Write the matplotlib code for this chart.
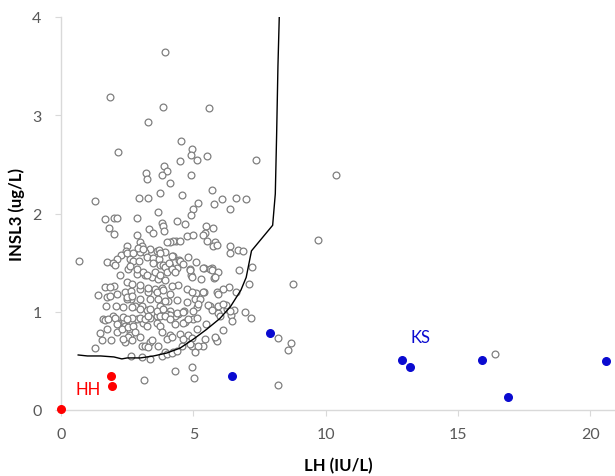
import numpy as np
import matplotlib.pyplot as plt

plt.rcParams['font.family'] = ['Lato', 'DejaVu Sans']

# Control subjects: LH (IU/L) vs INSL3 (ug/L)
ctrl_lh = [
    3.94, 1.85, 3.87, 5.59, 3.30, 4.52, 2.17, 4.96, 4.91, 5.51, 4.49, 5.15, 7.37, 3.90, 3.21, 3.24,
    4.01, 3.82, 4.93, 4.12, 5.69, 3.74, 4.59, 2.95, 3.28, 1.29, 6.08, 6.60, 6.98, 10.39, 9.73,
    5.19, 5.77, 6.39, 4.98, 3.65, 4.91, 1.66, 2.00, 2.10, 2.88, 4.37, 4.69, 3.83, 3.87, 1.83,
    2.01, 3.33, 3.49, 3.89, 5.47, 5.73, 5.44, 2.88, 4.75, 5.00, 5.36, 5.52, 5.83, 5.76, 6.39,
    6.37, 6.70, 6.87, 7.23, 6.73, 7.10, 8.78, 6.95, 7.17, 6.44, 6.46, 6.12, 6.55, 6.26, 5.95,
    6.24, 6.60, 6.34, 6.11, 5.91, 5.63, 5.92, 5.42, 5.09, 4.75, 4.41, 5.28, 5.79, 5.71, 5.63,
    5.42, 4.88, 4.91, 5.09, 4.79, 4.46, 4.22, 4.35, 4.24, 4.12, 3.99, 3.36, 3.62, 3.70, 3.93,
    3.17, 2.99, 2.48, 2.45, 2.27, 2.10, 1.73, 1.98, 2.03, 0.69, 2.61, 2.73, 2.95, 3.26, 3.49,
    3.70, 3.74, 3.87, 4.12, 4.37, 2.23, 2.54, 2.88, 3.17, 3.45, 3.65, 3.93,
    1.66, 2.00, 1.41, 1.73, 2.10, 2.42, 2.65, 2.99, 3.30, 3.55, 3.80, 4.12, 4.06, 4.37, 4.75,
    5.06, 5.13, 4.66, 4.41, 4.12, 3.74, 3.62, 3.26, 3.05, 2.80, 2.65, 2.48, 2.35, 2.08, 1.70,
    1.60, 1.98, 2.17, 2.42, 2.61, 2.67, 2.86, 3.11, 3.26, 3.62, 3.74, 3.99, 4.31, 4.69, 5.00,
    5.47, 5.13, 4.81, 4.50, 4.12, 3.80, 3.36, 3.05, 2.61, 2.42, 2.10, 1.73, 1.47, 1.56, 1.88,
    1.28, 2.65, 3.05, 3.36, 3.68, 3.93, 4.24, 4.56, 4.94, 5.06, 5.44, 5.85, 5.88, 4.31, 4.96,
    5.03, 3.15, 8.21, 8.21, 8.59, 8.68, 16.40,
    2.99, 3.05, 3.74, 2.48, 2.73, 2.92, 3.11, 3.49, 3.93, 4.10, 2.61, 2.86, 3.11, 3.24, 3.55,
    3.74, 3.99, 2.48, 2.67, 2.99, 3.30, 3.62, 3.87, 4.18, 1.85, 1.85, 2.48, 2.67, 2.99, 3.36,
    3.68, 3.93, 2.67, 2.99, 3.36, 3.62, 3.87, 2.35, 2.67, 2.99, 3.36, 3.74, 4.12, 4.50, 5.88,
    4.18, 4.50, 4.62, 4.88, 4.94, 5.38, 5.69, 5.95, 5.82, 4.94, 5.38, 5.95, 4.18, 4.31, 5.25,
    5.19, 5.00, 5.57, 5.69, 6.13, 6.39, 4.37, 4.62,
    1.66, 1.79, 2.04, 2.48, 3.17, 3.30, 3.93, 4.12, 2.10, 2.29, 2.54, 2.73, 2.80, 2.54, 2.35,
    2.67, 2.99, 3.17, 3.30, 3.99, 3.43, 3.80, 3.99, 4.18,
    4.31, 4.62, 4.81, 5.13, 6.01, 4.18, 4.62, 4.94, 5.38, 5.19, 4.88, 4.37, 5.82,
]
ctrl_insl3 = [
    3.64, 3.19, 3.08, 3.07, 2.93, 2.74, 2.63, 2.66, 2.60, 2.59, 2.53, 2.54, 2.54, 2.48, 2.41, 2.35,
    2.43, 2.39, 2.39, 2.31, 2.24, 2.21, 2.19, 2.16, 2.16, 2.13, 2.15, 2.16, 2.15, 2.39, 1.73,
    2.11, 2.10, 2.05, 2.05, 2.02, 1.98, 1.94, 1.95, 1.95, 1.95, 1.92, 1.89, 1.90, 1.87, 1.85,
    1.79, 1.84, 1.80, 1.82, 1.87, 1.85, 1.80, 1.78, 1.77, 1.78, 1.78, 1.72, 1.71, 1.67, 1.67,
    1.60, 1.63, 1.62, 1.46, 1.43, 1.28, 1.28, 1.00, 0.94, 0.97, 0.91, 0.81, 1.02, 1.03, 0.99,
    1.07, 1.20, 1.25, 1.23, 1.20, 1.06, 1.06, 1.20, 1.19, 1.23, 1.27, 1.33, 1.34, 1.45, 1.44,
    1.45, 1.44, 1.37, 1.51, 1.56, 1.53, 1.57, 1.72, 1.72, 1.71, 1.71, 1.64, 1.62, 1.63, 1.61,
    1.61, 1.61, 1.67, 1.62, 1.58, 1.54, 1.51, 1.50, 1.48, 1.52, 1.54, 1.52, 1.52, 1.56, 1.55,
    1.54, 1.48, 1.48, 1.47, 1.45, 1.37, 1.44, 1.38, 1.37, 1.35, 1.33, 1.32,
    1.25, 1.26, 1.17, 1.15, 1.18, 1.20, 1.21, 1.23, 1.20, 1.23, 1.24, 1.18, 1.11, 1.12, 1.10,
    1.13, 1.05, 1.01, 0.98, 1.01, 1.06, 0.96, 1.02, 1.06, 1.06, 1.13, 1.13, 1.05, 1.06, 1.06,
    0.93, 0.96, 0.89, 0.86, 0.79, 0.89, 0.93, 0.89, 0.86, 0.89, 0.86, 0.98, 0.96, 0.90, 0.93,
    0.88, 0.82, 0.76, 0.77, 0.76, 0.79, 0.69, 0.65, 0.76, 0.69, 0.79, 0.82, 0.78, 0.71, 0.71,
    0.63, 0.55, 0.54, 0.52, 0.65, 0.59, 0.59, 0.65, 0.65, 0.59, 0.72, 0.72, 0.70, 0.40, 0.44,
    0.33, 0.31, 0.25, 0.73, 0.61, 0.68, 0.57,
    1.71, 1.67, 1.60, 1.60, 1.60, 1.65, 1.64, 1.50, 1.46, 1.50, 1.47, 1.44, 1.40, 1.37, 1.40,
    1.37, 1.40, 1.30, 1.28, 1.27, 1.24, 1.20, 1.22, 1.26, 1.25, 1.16, 1.15, 1.16, 1.13, 1.13,
    1.13, 1.11, 1.05, 1.03, 1.03, 1.01, 1.03, 0.95, 0.94, 0.94, 0.94, 0.96, 0.97, 1.72, 1.68,
    1.57, 1.52, 1.49, 1.42, 1.35, 1.45, 1.42, 1.40, 1.35, 1.20, 1.20, 1.18, 1.44, 1.40, 1.13,
    1.08, 1.01, 1.07, 1.02, 1.08, 1.01, 0.99, 1.00,
    0.92, 0.93, 0.94, 0.93, 0.93, 0.96, 0.96, 0.93, 0.88, 0.82, 0.84, 0.86, 0.79, 0.74, 0.72,
    0.71, 0.74, 0.65, 0.64, 0.72, 0.71, 0.55, 0.57, 0.58,
    0.88, 0.89, 0.93, 0.94, 0.96, 0.74, 0.72, 0.73, 0.65, 0.65, 0.67, 0.60, 0.74,
]

# Kallmann syndrome (KS) patients
ks_lh = [7.89, 6.47, 12.90, 13.20, 15.91, 16.91, 20.61]
ks_insl3 = [0.78, 0.35, 0.51, 0.44, 0.51, 0.13, 0.50]

# hypogonadotropic hypogonadism (HH) patients
hh_lh = [0.0, 1.88, 1.92]
hh_insl3 = [0.01, 0.35, 0.24]

# lower reference limit curve
curve_lh = [0.65, 1.0, 1.5, 2.0, 2.3, 2.5, 3.0, 3.5, 4.0, 4.5, 5.0, 5.5, 6.0, 6.4, 6.8,
            7.0, 7.2, 7.6, 8.0, 8.1, 8.15, 8.2, 8.25]
curve_insl3 = [0.56, 0.55, 0.55, 0.54, 0.52, 0.53, 0.53, 0.55, 0.58, 0.63, 0.72, 0.82, 0.93,
               1.05, 1.22, 1.35, 1.62, 1.75, 1.88, 2.2, 2.8, 3.5, 4.0]

fig = plt.figure(figsize=(6.15, 4.77), dpi=100)
ax = fig.add_axes([61/615, 1-411/477, 1-61/615, 393/477])

ax.scatter(ctrl_lh, ctrl_insl3, s=24, facecolors='white', edgecolors='#7f7f7f',
           linewidths=0.9, zorder=2)
ax.plot(curve_lh, curve_insl3, color='black', lw=1.0, zorder=3)
ax.scatter(ks_lh, ks_insl3, s=30, color='#0a0ad0', zorder=4)
ax.scatter(hh_lh, hh_insl3, s=30, color='#ff0000', zorder=4, clip_on=False)

ax.text(1.03, 0.21, 'HH', color='#ff0000', fontsize=12, ha='center', va='center')
ax.text(13.57, 0.74, 'KS', color='#0a0ad0', fontsize=12, ha='center', va='center')

ax.set_xlim(0, 20.94)
ax.set_ylim(0, 4)
ax.set_xticks([0, 5, 10, 15, 20])
ax.set_yticks([0, 1, 2, 3, 4])

for side in ['top', 'right']:
    ax.spines[side].set_visible(False)
for side in ['left', 'bottom']:
    ax.spines[side].set_color('#d9d9d9')
    ax.spines[side].set_linewidth(1.0)
ax.tick_params(colors='#d9d9d9', labelcolor='#595959', labelsize=11.5, length=4)
ax.tick_params(axis='x', pad=8)
ax.tick_params(axis='y', pad=10)

ax.set_xlabel('LH (IU/L)', fontsize=12, fontweight='bold', labelpad=12)
ax.set_ylabel('INSL3 (ug/L)', fontsize=12, fontweight='bold', labelpad=5)

fig.savefig('out.png', dpi=100)
